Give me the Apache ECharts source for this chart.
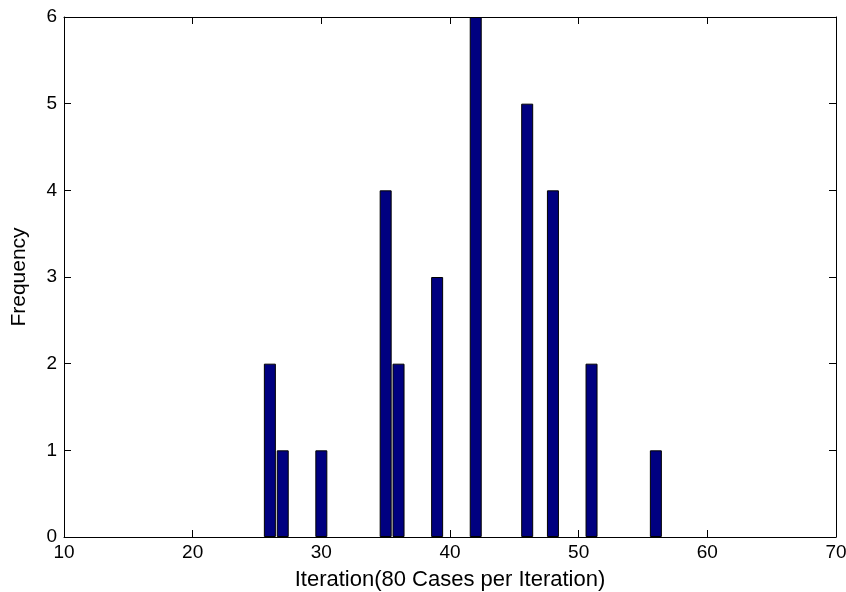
<!DOCTYPE html>
<html>
<head>
<meta charset="utf-8">
<script src="https://cdn.jsdelivr.net/npm/echarts@6/dist/echarts.min.js"></script>
<style>html,body{margin:0;padding:0;background:#fff}#c{width:846px;height:592px}</style>
</head>
<body>
<div id="c"></div>
<script>
const iterations = [26, 27, 30, 35, 36, 39, 42, 46, 48, 51, 56];
const frequency  = [2, 1, 1, 4, 2, 3, 6, 5, 4, 2, 1];
const xTicks = [10, 20, 30, 40, 50, 60, 70];
const yTicks = [0, 1, 2, 3, 4, 5, 6];

const font = 'Liberation Sans, Arial, Helvetica, sans-serif';
const chart = echarts.init(document.getElementById('c'));
const lineStyle = {color: '#000', width: 1};
const tick = {show: true, inside: true, length: 7, lineStyle: lineStyle};
chart.setOption({
  animation: false,
  grid: {left: 64, right: 10, top: 17, bottom: 55, containLabel: false, outerBoundsMode: 'none'},
  xAxis: [{
    type: 'value', min: xTicks[0], max: xTicks[xTicks.length - 1], interval: 10,
    position: 'bottom',
    name: 'Iteration(80 Cases per Iteration)', nameLocation: 'middle', nameGap: 32,
    nameTextStyle: {fontFamily: font, fontSize: 22, color: '#000'},
    axisLine: {show: true, lineStyle: lineStyle},
    axisTick: tick,
    axisLabel: {fontFamily: font, fontSize: 19, color: '#000', margin: 6},
    splitLine: {show: false}
  }, {
    type: 'value', min: xTicks[0], max: xTicks[xTicks.length - 1], interval: 10,
    position: 'top',
    axisLine: {show: true, onZero: false, lineStyle: lineStyle},
    axisTick: tick,
    axisLabel: {show: false},
    splitLine: {show: false}
  }],
  yAxis: [{
    type: 'value', min: yTicks[0], max: yTicks[yTicks.length - 1], interval: 1,
    position: 'left',
    name: 'Frequency', nameLocation: 'middle', nameGap: 34, nameRotate: 90,
    nameTextStyle: {fontFamily: font, fontSize: 21, color: '#000'},
    axisLine: {show: true, lineStyle: lineStyle},
    axisTick: tick,
    axisLabel: {fontFamily: font, fontSize: 19, color: '#000', margin: 7},
    splitLine: {show: false}
  }, {
    type: 'value', min: yTicks[0], max: yTicks[yTicks.length - 1], interval: 1,
    position: 'right',
    axisLine: {show: true, onZero: false, lineStyle: lineStyle},
    axisTick: tick,
    axisLabel: {show: false},
    splitLine: {show: false}
  }],
  series: [{
    type: 'bar',
    xAxisIndex: 0, yAxisIndex: 0,
    data: iterations.map((x, i) => [x, frequency[i]]),
    barWidth: 12,
    itemStyle: {color: '#000080', borderColor: '#000', borderWidth: 1}
  }]
});
</script>
</body>
</html>
